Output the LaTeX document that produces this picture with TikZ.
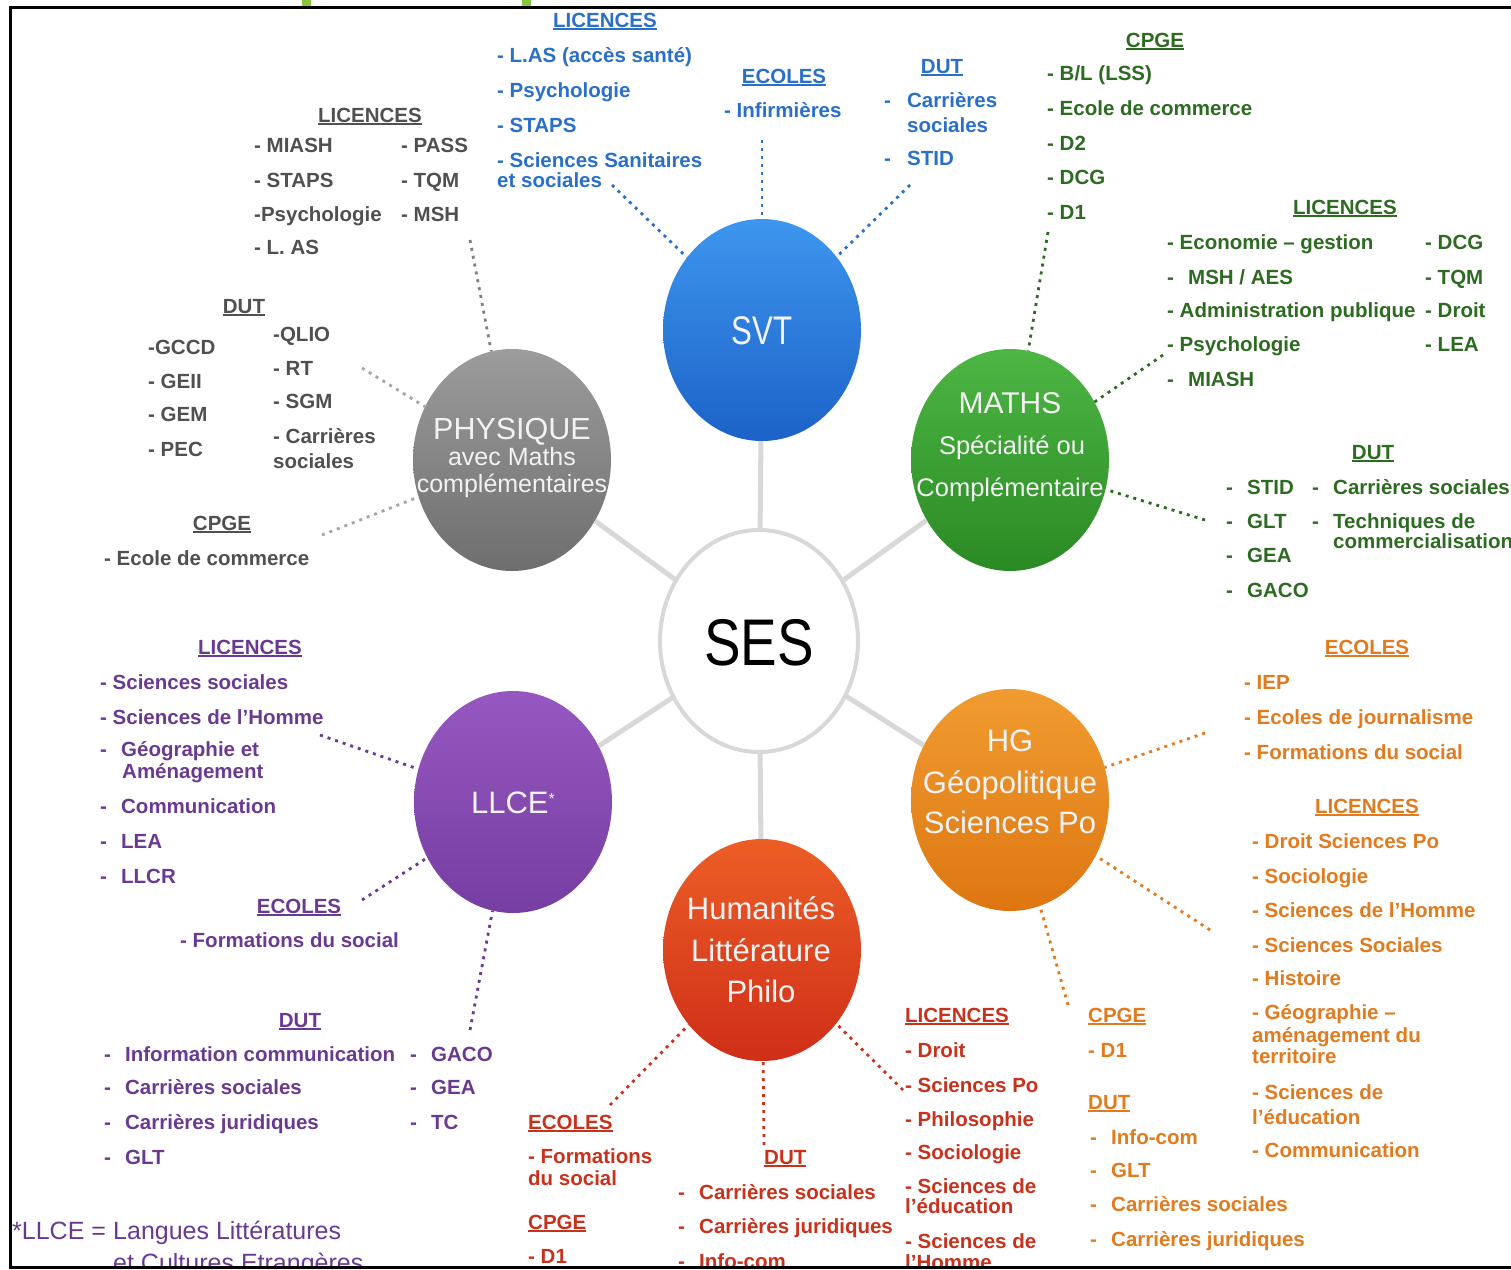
\documentclass[tikz,border=0pt]{standalone}
\usepackage{fontspec}
\setmainfont{Liberation Sans}
\usetikzlibrary{shapes.geometric}
\definecolor{spokegray}{HTML}{D8D8D8}
\definecolor{cgray}{HTML}{505050}
\definecolor{cblue}{HTML}{2A6FCA}
\definecolor{cgreen}{HTML}{2E6B22}
\definecolor{cpurple}{HTML}{6A3A92}
\definecolor{corange}{HTML}{E27A1E}
\definecolor{cred}{HTML}{C8321D}
\definecolor{svtT}{HTML}{3E96EE}
\definecolor{svtB}{HTML}{1C62C8}
\definecolor{phyT}{HTML}{9C9C9C}
\definecolor{phyB}{HTML}{6E6E6E}
\definecolor{matT}{HTML}{4DB644}
\definecolor{matB}{HTML}{2A8A24}
\definecolor{llcT}{HTML}{9658C0}
\definecolor{llcB}{HTML}{763DA2}
\definecolor{hgT}{HTML}{F09C30}
\definecolor{hgB}{HTML}{DE7612}
\definecolor{humT}{HTML}{EC5E26}
\definecolor{humB}{HTML}{CF2E18}
\definecolor{lime}{HTML}{8CC63E}
\newcommand\hd[1]{\setbox0\hbox{#1}\rlap{\rule[-3pt]{\wd0}{1.6pt}}\box0}
\newcommand\bul[1]{\makebox[21pt][l]{-}#1}
\newcommand\tx[4]{\node[lbl] (#1) at (#2,{#3+7}) {#4};}
\newcommand\hc[4]{\node[hdr] (#1) at (#2,{#3+7}) {\hd{#4}};}
\newcommand\hw[4]{\node[lbl] (#1) at (#2,{#3+7}) {\hd{#4}};}
\begin{document}
\begin{tikzpicture}[x=1pt,y=-1pt,
  lbl/.style={inner sep=0pt, anchor=base west, font=\fontsize{20.5}{24}\selectfont\bfseries},
  hdr/.style={inner sep=0pt, anchor=base, font=\fontsize{20.5}{24}\selectfont\bfseries},
  foot/.style={inner sep=0pt, anchor=base west, text=cpurple, font=\fontsize{25}{28}\selectfont},
  bub/.style={ellipse, minimum width=198pt, minimum height=222pt, inner sep=0pt},
  ctext/.style={inner sep=0pt, anchor=base, text=white!95!black},
  spoke/.style={draw=spokegray, line width=5pt},
  dots/.style={line width=2.8pt, dash pattern=on 3pt off 5pt}]
\useasboundingbox (0,0) rectangle (1511,1269);
\fill[white] (0,0) rectangle (1511,1269);

% bubbles
\node[bub, draw=spokegray, line width=4pt, fill=white] (ses) at (759,641) {};
\node[bub, top color=svtT, bottom color=svtB] (svt) at (762,330) {};
\node[bub, top color=phyT, bottom color=phyB] (phys) at (512,460) {};
\node[bub, top color=matT, bottom color=matB] (maths) at (1010,460) {};
\node[bub, top color=llcT, bottom color=llcB] (llce) at (513,802) {};
\node[bub, top color=hgT, bottom color=hgB] (hg) at (1010,800) {};
\node[bub, top color=humT, bottom color=humB] (hum) at (762,950) {};

% spokes
\draw[spoke] (ses) -- (svt);
\draw[spoke] (ses) -- (phys);
\draw[spoke] (ses) -- (maths);
\draw[spoke] (ses) -- (llce);
\draw[spoke] (ses) -- (hg);
\draw[spoke] (ses) -- (hum);

% bubble texts
\node[inner sep=0pt, anchor=base] (sesT) at (759,665) {\fontsize{66}{70}\selectfont\scalebox{0.83}[1]{SES}};
\node[ctext, font=\fontsize{40}{44}\selectfont] (svtT1) at (762,344) {\scalebox{0.78}[1]{SVT}};
\node[ctext, font=\fontsize{30.5}{34}\selectfont] (phT1) at (512,439) {PHYSIQUE};
\node[ctext, font=\fontsize{25}{28}\selectfont] (phT2) at (512,465) {avec Maths};
\node[ctext, font=\fontsize{25}{28}\selectfont] (phT3) at (512,492) {complémentaires};
\node[ctext, font=\fontsize{30}{34}\selectfont] (maT1) at (1010,413) {MATHS};
\node[ctext, font=\fontsize{25.5}{28}\selectfont] (maT2) at (1012,454) {Spécialité ou};
\node[ctext, font=\fontsize{25.5}{28}\selectfont] (maT3) at (1010,496) {Complémentaire};
\node[ctext, font=\fontsize{31}{34}\selectfont] (llT1) at (513,813) {LLCE\raisebox{9pt}{\fontsize{16}{18}\selectfont *}};
\node[ctext, font=\fontsize{31}{34}\selectfont] (hgT1) at (1010,751) {HG};
\node[ctext, font=\fontsize{31}{34}\selectfont] (hgT2) at (1010,793) {Géopolitique};
\node[ctext, font=\fontsize{31}{34}\selectfont] (hgT3) at (1010,833) {Sciences Po};
\node[ctext, font=\fontsize{31}{34}\selectfont] (huT1) at (761,919) {Humanités};
\node[ctext, font=\fontsize{31}{34}\selectfont] (huT2) at (761,961) {Littérature};
\node[ctext, font=\fontsize{31}{34}\selectfont] (huT3) at (761,1002) {Philo};

% ---------- PHYSIQUE group (gray)
\begin{scope}[every node/.append style={text=cgray}]
\hc{pL}{370}{115}{LICENCES}
\tx{pL1}{254}{145}{- MIASH}
\tx{pL2}{254}{180}{- STAPS}
\tx{pL3}{254}{214}{-Psychologie}
\tx{pL4}{254}{247}{- L. AS}
\tx{pL5}{401}{145}{- PASS}
\tx{pL6}{401}{180}{- TQM}
\tx{pL7}{401}{214}{- MSH}
\hc{pD}{244}{306}{DUT}
\tx{pD1}{148}{347}{-GCCD}
\tx{pD2}{148}{381}{- GEII}
\tx{pD3}{148}{414}{- GEM}
\tx{pD4}{148}{449}{- PEC}
\tx{pD5}{273}{334}{-QLIO}
\tx{pD6}{273}{368}{- RT}
\tx{pD7}{273}{401}{- SGM}
\tx{pD8}{273}{436}{- Carrières}
\tx{pD9}{273}{461}{sociales}
\hc{pC}{222}{523}{CPGE}
\tx{pC1}{104}{558}{- Ecole de commerce}
\end{scope}
\coordinate (cp1) at (470,240);
\coordinate (cp2) at (362,368);
\coordinate (cp3) at (322,535);
\draw[dots, draw=gray] (cp1) -- (phys);
\draw[dots, draw=gray!70] (cp2) -- (phys);
\draw[dots, draw=gray!70] (cp3) -- (phys);

% ---------- SVT group (blue)
\begin{scope}[every node/.append style={text=cblue}]
\hc{sL}{605}{20}{LICENCES}
\tx{sL1}{497}{55}{- L.AS (accès santé)}
\tx{sL2}{497}{90}{- Psychologie}
\tx{sL3}{497}{125}{- STAPS}
\tx{sL4}{497}{160}{- Sciences Sanitaires}
\tx{sL5}{497}{180}{et sociales}
\hc{sE}{784}{76}{ECOLES}
\tx{sE1}{724}{110}{- Infirmières}
\hc{sD}{942}{66}{DUT}
\tx{sD1}{884}{100}{\makebox[23pt][l]{-}Carrières}
\tx{sD2}{907}{125}{sociales}
\tx{sD3}{884}{158}{\makebox[23pt][l]{-}STID}
\end{scope}
\coordinate (cs1) at (612,185);
\coordinate (cs2) at (762,140);
\coordinate (cs3) at (910,185);
\draw[dots, draw=cblue] (cs1) -- (svt);
\draw[dots, draw=cblue] (cs2) -- (svt);
\draw[dots, draw=cblue] (cs3) -- (svt);

% ---------- MATHS group (green)
\begin{scope}[every node/.append style={text=cgreen}]
\hc{mC}{1155}{40}{CPGE}
\tx{mC1}{1047}{73}{- B/L (LSS)}
\tx{mC2}{1047}{108}{- Ecole de commerce}
\tx{mC3}{1047}{143}{- D2}
\tx{mC4}{1047}{177}{- DCG}
\tx{mC5}{1047}{212}{- D1}
\hc{mL}{1345}{207}{LICENCES}
\tx{mL1}{1167}{242}{- Economie – gestion}
\tx{mL2}{1167}{277}{\bul{MSH / AES}}
\tx{mL3}{1167}{310}{- Administration publique}
\tx{mL4}{1167}{344}{- Psychologie}
\tx{mL5}{1167}{379}{\bul{MIASH}}
\tx{mL6}{1425}{242}{- DCG}
\tx{mL7}{1425}{277}{- TQM}
\tx{mL8}{1425}{310}{- Droit}
\tx{mL9}{1425}{344}{- LEA}
\hc{mD}{1373}{452}{DUT}
\tx{mD1}{1226}{487}{\bul{STID}}
\tx{mD2}{1226}{521}{\bul{GLT}}
\tx{mD3}{1226}{555}{\bul{GEA}}
\tx{mD4}{1226}{590}{\bul{GACO}}
\tx{mD5}{1312}{487}{\bul{Carrières sociales}}
\tx{mD6}{1312}{521}{\bul{Techniques de}}
\tx{mD7}{1333}{541}{commercialisation}
\end{scope}
\coordinate (cm1) at (1048,232);
\coordinate (cm2) at (1163,355);
\coordinate (cm3) at (1205,520);
\draw[dots, draw=cgreen] (cm1) -- (maths);
\draw[dots, draw=cgreen] (cm2) -- (maths);
\draw[dots, draw=cgreen] (cm3) -- (maths);

% ---------- LLCE group (purple)
\begin{scope}[every node/.append style={text=cpurple}]
\hc{lL}{250}{647}{LICENCES}
\tx{lL1}{100}{682}{- Sciences sociales}
\tx{lL2}{100}{717}{- Sciences de l'Homme}
\tx{lL3}{100}{749}{\bul{Géographie et}}
\tx{lL4}{122}{771}{Aménagement}
\tx{lL5}{100}{806}{\bul{Communication}}
\tx{lL6}{100}{841}{\bul{LEA}}
\tx{lL7}{100}{876}{\bul{LLCR}}
\hc{lE}{299}{906}{ECOLES}
\tx{lE1}{180}{940}{- Formations du social}
\hc{lD}{300}{1020}{DUT}
\tx{lD1}{104}{1054}{\bul{Information communication}}
\tx{lD2}{104}{1087}{\bul{Carrières sociales}}
\tx{lD3}{104}{1122}{\bul{Carrières juridiques}}
\tx{lD4}{104}{1157}{\bul{GLT}}
\tx{lD5}{410}{1054}{\bul{GACO}}
\tx{lD6}{410}{1087}{\bul{GEA}}
\tx{lD7}{410}{1122}{\bul{TC}}
\end{scope}
\node[foot] (ft1) at (12,1239) {*LLCE =};
\node[foot] (ft2) at (113,1239) {Langues Littératures};
\node[foot] (ft3) at (113,1271) {et Cultures Etrangères};
\coordinate (cl1) at (320,735);
\coordinate (cl2) at (362,900);
\coordinate (cl3) at (470,1030);
\draw[dots, draw=cpurple] (cl1) -- (llce);
\draw[dots, draw=cpurple] (cl2) -- (llce);
\draw[dots, draw=cpurple] (cl3) -- (llce);

% ---------- HG group (orange)
\begin{scope}[every node/.append style={text=corange}]
\hc{hE}{1367}{647}{ECOLES}
\tx{hE1}{1244}{682}{- IEP}
\tx{hE2}{1244}{717}{- Ecoles de journalisme}
\tx{hE3}{1244}{752}{- Formations du social}
\hc{hL}{1367}{806}{LICENCES}
\tx{hL1}{1252}{841}{- Droit Sciences Po}
\tx{hL2}{1252}{876}{- Sociologie}
\tx{hL3}{1252}{910}{- Sciences de l'Homme}
\tx{hL4}{1252}{945}{- Sciences Sociales}
\tx{hL5}{1252}{978}{- Histoire}
\tx{hL6}{1252}{1012}{- Géographie –}
\tx{hL7}{1252}{1035}{aménagement du}
\tx{hL8}{1252}{1056}{territoire}
\tx{hL9}{1252}{1092}{- Sciences de}
\tx{hL10}{1252}{1117}{l'éducation}
\tx{hL11}{1252}{1150}{- Communication}
\hw{hC}{1088}{1015}{CPGE}
\tx{hC1}{1088}{1050}{- D1}
\hw{hD}{1088}{1102}{DUT}
\tx{hD1}{1090}{1137}{\bul{Info-com}}
\tx{hD2}{1090}{1170}{\bul{GLT}}
\tx{hD3}{1090}{1204}{\bul{Carrières sociales}}
\tx{hD4}{1090}{1239}{\bul{Carrières juridiques}}
\end{scope}
\coordinate (ch1) at (1205,733);
\coordinate (ch2) at (1210,930);
\coordinate (ch3) at (1068,1005);
\draw[dots, draw=corange] (ch1) -- (hg);
\draw[dots, draw=corange] (ch2) -- (hg);
\draw[dots, draw=corange] (ch3) -- (hg);

% ---------- Humanites group (red)
\begin{scope}[every node/.append style={text=cred}]
\hw{rE}{528}{1122}{ECOLES}
\tx{rE1}{528}{1156}{- Formations}
\tx{rE2}{528}{1178}{du social}
\hw{rC}{528}{1222}{CPGE}
\tx{rC1}{528}{1256}{- D1}
\hw{rD}{764}{1157}{DUT}
\tx{rD1}{678}{1192}{\bul{Carrières sociales}}
\tx{rD2}{678}{1226}{\bul{Carrières juridiques}}
\tx{rD3}{678}{1261}{\bul{Info-com}}
\hw{rL}{905}{1015}{LICENCES}
\tx{rL1}{905}{1050}{- Droit}
\tx{rL2}{905}{1085}{- Sciences Po}
\tx{rL3}{905}{1119}{- Philosophie}
\tx{rL4}{905}{1152}{- Sociologie}
\tx{rL5}{905}{1186}{- Sciences de}
\tx{rL6}{905}{1206}{l'éducation}
\tx{rL7}{905}{1241}{- Sciences de}
\tx{rL8}{905}{1262}{l'Homme}
\end{scope}
\coordinate (cr1) at (610,1105);
\coordinate (cr2) at (764,1145);
\coordinate (cr3) at (903,1090);
\draw[dots, draw=cred] (cr1) -- (hum);
\draw[dots, draw=cred] (cr2) -- (hum);
\draw[dots, draw=cred] (cr3) -- (hum);

% frame (drawn last: the picture is cut at its lower edge)
\fill[white] (0,1267) rectangle (1520,1275);
\fill[white] (0,0) rectangle (1520,7);
\fill[lime] (302,0) rectangle (311,7);
\fill[lime] (522,0) rectangle (531,7);
\draw[line width=3pt] (1520,7) -- (10,7) -- (10,1267) -- (1520,1267);
\end{tikzpicture}
\end{document}
